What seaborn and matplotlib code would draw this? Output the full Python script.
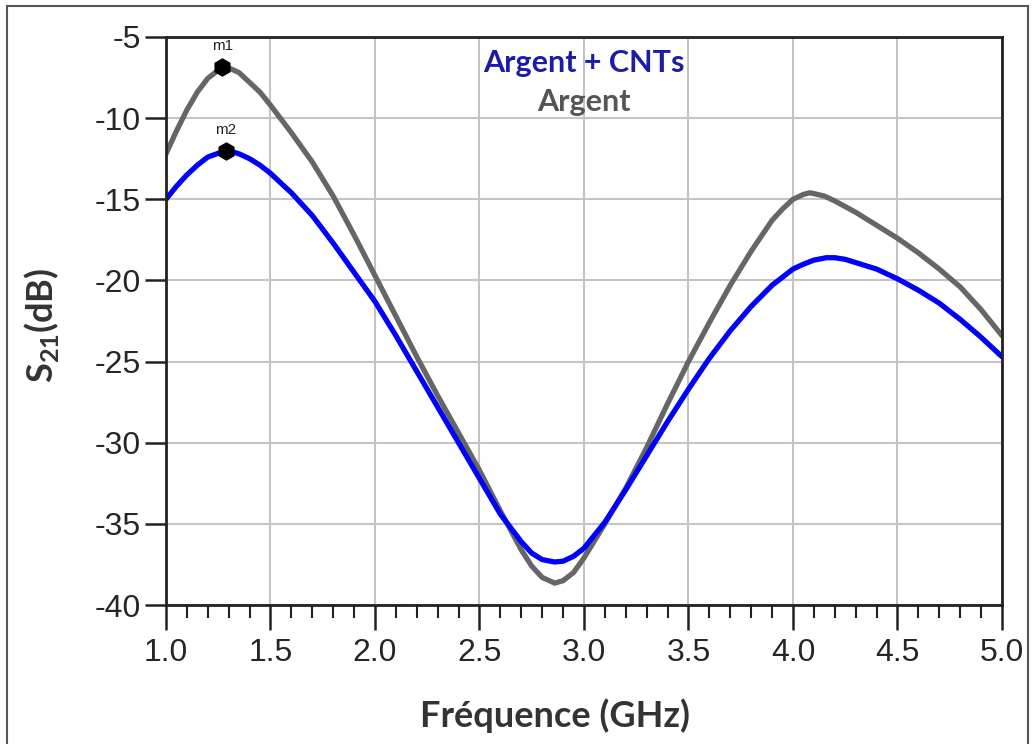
import numpy as np
import pandas as pd
import matplotlib
matplotlib.use("Agg")
import matplotlib.pyplot as plt
import seaborn as sns
from matplotlib.ticker import MultipleLocator, FormatStrFormatter
from matplotlib.patches import Rectangle

# --- data (GHz, dB) ---
freq_argent = [1.0, 1.05, 1.1, 1.15, 1.2, 1.27, 1.3, 1.35, 1.4, 1.45, 1.5,
               1.6, 1.7, 1.8, 1.9, 2.0, 2.1, 2.2, 2.3, 2.4, 2.5, 2.6, 2.7,
               2.75, 2.8, 2.86, 2.9, 2.95, 3.0, 3.1, 3.2, 3.3, 3.4, 3.5, 3.6,
               3.7, 3.8, 3.9, 3.95, 4.0, 4.05, 4.08, 4.1, 4.15, 4.2, 4.3, 4.4,
               4.5, 4.6, 4.7, 4.8, 4.9, 5.0]
s21_argent = [-12.2, -10.8, -9.5, -8.4, -7.55, -6.85, -6.9, -7.2, -7.8, -8.4,
              -9.2, -10.9, -12.7, -14.8, -17.2, -19.7, -22.2, -24.7, -27.1,
              -29.4, -31.7, -34.2, -36.6, -37.6, -38.3, -38.65, -38.5, -38.0,
              -37.1, -35.0, -32.8, -30.3, -27.6, -25.0, -22.6, -20.3, -18.2,
              -16.3, -15.6, -15.0, -14.7, -14.6, -14.65, -14.8, -15.1, -15.8,
              -16.6, -17.4, -18.3, -19.3, -20.4, -21.8, -23.4]

freq_cnt = [1.0, 1.05, 1.1, 1.15, 1.2, 1.285, 1.3, 1.35, 1.4, 1.45, 1.5,
            1.6, 1.7, 1.8, 1.9, 2.0, 2.1, 2.2, 2.3, 2.4, 2.5, 2.6, 2.7,
            2.75, 2.8, 2.86, 2.9, 2.95, 3.0, 3.1, 3.2, 3.3, 3.4, 3.5, 3.6,
            3.7, 3.8, 3.9, 4.0, 4.05, 4.1, 4.16, 4.2, 4.25, 4.3, 4.4, 4.5,
            4.6, 4.7, 4.8, 4.9, 5.0]
s21_cnt = [-15.0, -14.2, -13.5, -12.9, -12.4, -12.0, -12.0, -12.2, -12.5,
           -12.9, -13.4, -14.6, -16.0, -17.7, -19.5, -21.3, -23.4, -25.6,
           -27.8, -30.0, -32.2, -34.4, -36.1, -36.8, -37.2, -37.35, -37.3,
           -37.0, -36.5, -34.9, -32.9, -30.8, -28.7, -26.7, -24.8, -23.1,
           -21.6, -20.3, -19.3, -19.0, -18.75, -18.6, -18.6, -18.7, -18.9,
           -19.3, -19.9, -20.6, -21.4, -22.4, -23.5, -24.7]

marker_names = ["m1", "m2"]
marker_freq = [1.27, 1.285]
marker_s21 = [-6.85, -12.0]

series_names = ["Argent + CNTs", "Argent"]
series_colors = ["#0000ff", "#666666"]
legend_colors = ["#1c1ca6", "#555555"]

df = pd.concat([
    pd.DataFrame({"f": freq_cnt, "s21": s21_cnt, "serie": series_names[0]}),
    pd.DataFrame({"f": freq_argent, "s21": s21_argent, "serie": series_names[1]}),
])

sns.set_style("white")
plt.rcParams['font.family'] = ['Liberation Sans', 'DejaVu Sans']
plt.rcParams['axes.unicode_minus'] = False
plt.rcParams['mathtext.fontset'] = 'custom'
plt.rcParams['mathtext.rm'] = 'Lato:bold'
plt.rcParams['mathtext.bf'] = 'Lato:bold'

fig = plt.figure(figsize=(10.34, 7.44), dpi=100)
ax = fig.add_axes([0.1605, 0.1868, 0.8085, 0.7635])

sns.lineplot(data=df, x="f", y="s21", hue="serie", hue_order=series_names[::-1],
             palette=dict(zip(series_names, series_colors)), linewidth=3.8,
             legend=False, sort=False, estimator=None, ax=ax,
             solid_joinstyle="round", solid_capstyle="round")

ax.scatter(marker_freq, marker_s21, s=150, marker="h", color="black", zorder=5)
for name, fx, fy in zip(marker_names, marker_freq, marker_s21):
    ax.annotate(name, (fx, fy), xytext=(0, 10), textcoords="offset points",
                ha="center", va="bottom", fontsize=11, color="#222222")

ax.set_xlim(1.0, 5.0)
ax.set_ylim(-40, -5)
ax.xaxis.set_major_locator(MultipleLocator(0.5))
ax.xaxis.set_minor_locator(MultipleLocator(0.1))
ax.yaxis.set_major_locator(MultipleLocator(5))
ax.xaxis.set_major_formatter(FormatStrFormatter("%.1f"))

ax.grid(True, which="major", color="#c4c4c4", linewidth=1.5)
for sp in ax.spines.values():
    sp.set_color("#222222")
    sp.set_linewidth(2)

ax.tick_params(axis="x", which="major", direction="out", length=18, width=1.8,
               labelsize=23, pad=6, bottom=True, color="#222222")
ax.tick_params(axis="x", which="minor", direction="out", length=9, width=1.5,
               bottom=True, color="#222222")
ax.tick_params(axis="y", which="major", direction="out", length=15, width=1.8,
               labelsize=23, pad=3, left=True, color="#222222")

ax.set_xlabel("Fréquence (GHz)", fontsize=26, fontweight="bold", family="Lato",
              color="#333333")
ax.set_ylabel("S$_{21}$(dB)", fontsize=26, fontweight="bold", family="Lato",
              color="#333333")
ax.xaxis.set_label_coords(0.465, -0.165)
ax.yaxis.set_label_coords(-0.125, 0.493)

ax.text(0.5, 0.955, series_names[0], transform=ax.transAxes, ha="center",
        va="center", fontsize=22, fontweight="bold", family="Lato",
        color=legend_colors[0])
ax.text(0.5, 0.885, series_names[1], transform=ax.transAxes, ha="center",
        va="center", fontsize=22, fontweight="bold", family="Lato",
        color=legend_colors[1])

# outer frame of the original screenshot
fig.patches.append(Rectangle((0.007, -0.01), 0.987, 1.002, transform=fig.transFigure,
                             fill=False, edgecolor="#555555", linewidth=1.5))

fig.savefig("out.png", dpi=100)
